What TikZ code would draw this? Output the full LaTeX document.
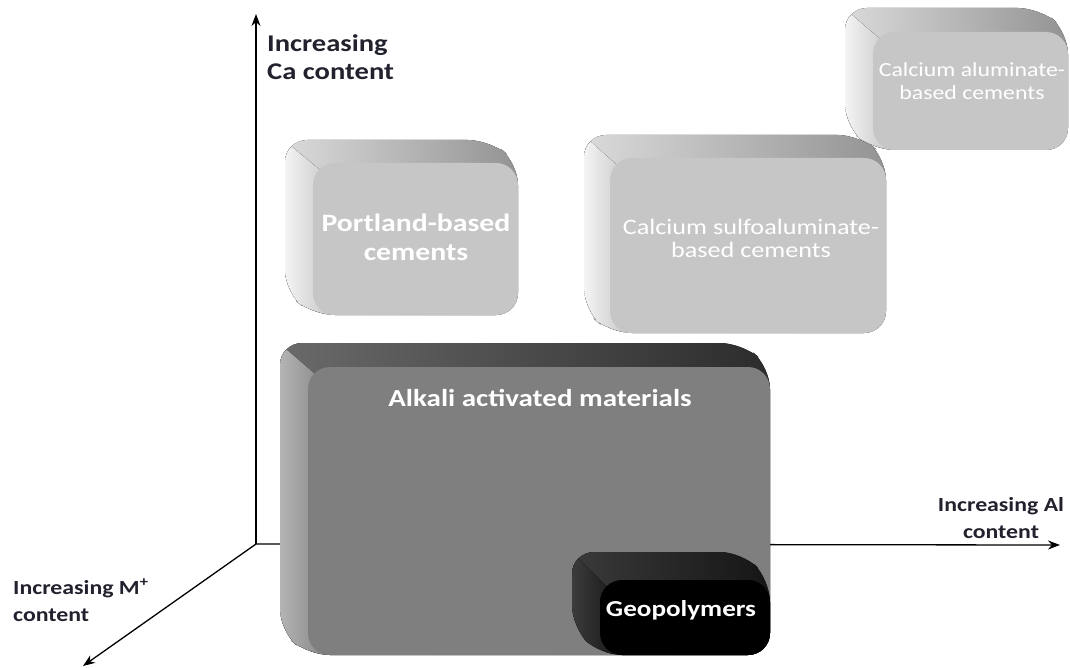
\documentclass[tikz,border=0pt]{standalone}
\usepackage{fontspec}
\setmainfont{Carlito}
\usetikzlibrary{arrows.meta,calc}
\newcommand\hs[1]{\scalebox{1.19}[1]{#1}}
\definecolor{lfront}{HTML}{C6C6C6}
\definecolor{ltopL}{HTML}{DADADA}
\definecolor{ltopR}{HTML}{939393}
\definecolor{lsideL}{HTML}{F4F4F4}
\definecolor{lsideR}{HTML}{CACACA}
\definecolor{afront}{HTML}{7F7F7F}
\definecolor{atopL}{HTML}{6A6A6A}
\definecolor{atopR}{HTML}{2C2C2C}
\definecolor{asideL}{HTML}{B4B4B4}
\definecolor{asideR}{HTML}{8A8A8A}
\definecolor{gtopL}{HTML}{3A3A3A}
\definecolor{gtopR}{HTML}{151515}
\definecolor{gsideL}{HTML}{3C3C3C}
\definecolor{gsideR}{HTML}{1A1A1A}
\definecolor{axtext}{HTML}{22222E}
% #1 x1, #2 y1, #3 x2, #4 y2 (front face), #5 dx, #6 dy (depth), #7 top face, #8 left face, #9 front
\newcommand\cuboid[9]{%
  \pgfmathsetmacro\cbx{#1-#5}\pgfmathsetmacro\cby{#2-#6}%
  \pgfmathsetmacro\cbX{#3-#5}\pgfmathsetmacro\cbY{#4-#6}%
  \pgfmathsetmacro\cpx{\cbx+6.4}\pgfmathsetmacro\cpy{\cby+6.4}%
  \fill[rounded corners=22pt,#7] (\cbx,\cby) -- (\cbX,\cby) -- (#3,#2) -- (#3,#4) -- (#1,#4) -- (\cbx,\cbY) -- cycle;
  \begin{scope}
    \clip[rounded corners=22pt] (\cbx,\cby) -- (\cbX,\cby) -- (#3,#2) -- (#3,#4) -- (#1,#4) -- (\cbx,\cbY) -- cycle;
    \clip (\cpx-3*#5,\cpy-3*#6) -- (\cpx+20*#5,\cpy+20*#6) -- (\cpx+20*#5-30*#6,\cpy+20*#6+30*#5) -- (\cpx-3*#5-30*#6,\cpy-3*#6+30*#5) -- cycle;
    \fill[#8] (\cbx,\cby) rectangle (#1+14,#4);
  \end{scope}
  \fill[rounded corners=22pt,#9] (#1,#2) rectangle (#3,#4);
}
\tikzset{
  axis/.style={line width=1.3pt,-{Stealth[length=12pt,width=9pt]}},
  axlabel/.style={text=axtext,inner sep=0pt},
  boxlabel/.style={text=white,align=center,inner sep=0pt},
  ltop/.style={left color=ltopL,right color=ltopR},
  lside/.style={left color=lsideL,right color=lsideR},
  lfr/.style={fill=lfront},
}
\begin{document}
\begin{tikzpicture}[x=1pt,y=-1pt]
\useasboundingbox (0,0) rectangle (1070,668);
\fill[white] (0,0) rectangle (1070,668);
% axes
\coordinate (O) at (256,544);
\coordinate (ytip) at (256,14);
\coordinate (xtip) at (1060,545);
\coordinate (ztip) at (83,666);
\draw[axis] (O) -- (ytip);
\draw[axis] (O) -- (xtip);
\draw[axis] (O) -- (ztip);
% base anchor = baseline of the last line
\node[axlabel,font=\bfseries\fontsize{24}{28}\selectfont,anchor=base west,align=left] (lca) at (267,80) {\hs{Increasing}\\\hs{Ca content}};
\node[axlabel,font=\bfseries\fontsize{20}{27}\selectfont,anchor=base,align=center] (lal) at (1001,538) {\hs{Increasing Al}\\\hs{content}};
\node[axlabel,font=\bfseries\fontsize{20}{27}\selectfont,anchor=base west,align=left] (lm) at (13,621) {\hs{Increasing M\textsuperscript{+}}\\\hs{content}};
% boxes
\cuboid{313}{163}{518}{315}{28}{23}{ltop}{lside}{lfr}
\cuboid{610}{158}{886}{333}{26}{23}{ltop}{lside}{lfr}
\cuboid{873}{32}{1068}{150}{28}{24}{ltop}{lside}{lfr}
\cuboid{308}{367}{770}{655}{28}{24}{left color=atopL,right color=atopR}{left color=asideL,right color=asideR}{fill=afront}
\cuboid{600}{580}{770}{655}{28}{28}{left color=gtopL,right color=gtopR}{left color=gsideL,right color=gsideR}{fill=black}
% labels
\node[boxlabel,font=\bfseries\fontsize{25}{29}\selectfont] (pc) at (416,237) {\hs{Portland-based}\\\hs{cements}};
\node[boxlabel,font=\fontsize{22}{23}\selectfont] (csa) at (751,238) {\hs{Calcium sulfoaluminate-}\\\hs{based cements}};
\node[boxlabel,font=\fontsize{20}{23}\selectfont] (ca) at (972,81) {\hs{Calcium aluminate-}\\\hs{based cements}};
\node[boxlabel,font=\bfseries\fontsize{24.4}{28}\selectfont] (aam) at (540,398) {\hs{Alkali activated materials}};
\node[boxlabel,font=\bfseries\fontsize{22.8}{26}\selectfont] (geo) at (681,610) {\hs{Geopolymers}};
\end{tikzpicture}
\end{document}
